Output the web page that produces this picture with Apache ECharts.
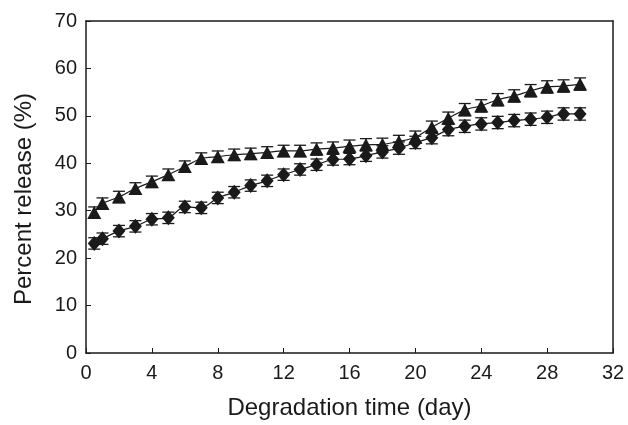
<!DOCTYPE html>
<html>
<head>
<meta charset="utf-8">
<script src="https://cdn.jsdelivr.net/npm/echarts@6/dist/echarts.min.js"></script>
<style>
html,body{margin:0;padding:0;background:#fff;}
#chart{width:628px;height:425px;}
</style>
</head>
<body>
<div id="chart"></div>
<script>
const days = [0.5, 1, 2, 3, 4, 5, 6, 7, 8, 9, 10, 11, 12, 13, 14, 15, 16, 17, 18, 19, 20, 21, 22, 23, 24, 25, 26, 27, 28, 29, 30];
const triangleValues = [29.6, 31.5, 32.9, 34.7, 36.1, 37.6, 39.3, 41.0, 41.4, 41.8, 42.0, 42.3, 42.6, 42.6, 43.0, 43.2, 43.6, 43.9, 44.0, 44.6, 45.5, 47.6, 49.5, 51.3, 52.1, 53.4, 54.2, 55.3, 56.1, 56.3, 56.7];
const triangleErrors = [1.2, 1.2, 1.2, 1.2, 1.2, 1.2, 1.2, 1.2, 1.2, 1.2, 1.2, 1.2, 1.2, 1.2, 1.3, 1.3, 1.3, 1.3, 1.3, 1.3, 1.3, 1.3, 1.3, 1.3, 1.3, 1.3, 1.3, 1.3, 1.3, 1.3, 1.3];
const diamondValues = [23.1, 24.1, 25.7, 26.7, 28.2, 28.5, 30.8, 30.6, 32.7, 33.9, 35.3, 36.3, 37.6, 38.7, 39.7, 40.8, 40.9, 41.6, 42.4, 43.2, 44.4, 45.4, 47.1, 47.8, 48.3, 48.6, 49.0, 49.3, 49.7, 50.4, 50.4];
const diamondErrors = [1.2, 1.2, 1.2, 1.2, 1.2, 1.2, 1.2, 1.2, 1.2, 1.2, 1.2, 1.2, 1.2, 1.2, 1.2, 1.2, 1.2, 1.2, 1.3, 1.3, 1.3, 1.3, 1.3, 1.3, 1.3, 1.3, 1.3, 1.3, 1.3, 1.3, 1.3];
const xTicks = [0, 4, 8, 12, 16, 20, 24, 28, 32];
const yTicks = [0, 10, 20, 30, 40, 50, 60, 70];

const font = '"Liberation Sans", Arial, Helvetica, sans-serif';
const ink = '#1a1a1a';

function pairs(xs, ys) { return xs.map((x, i) => [x, ys[i]]); }
function errData(xs, ys, es) { return xs.map((x, i) => [x, ys[i], es[i]]); }

function errorRender(params, api) {
  const x = api.value(0), y = api.value(1), e = api.value(2);
  const top = api.coord([x, y + e]);
  const bot = api.coord([x, y - e]);
  const hw = 6;
  const style = { stroke: ink, lineWidth: 1.3 };
  return {
    type: 'group',
    children: [
      { type: 'line', shape: { x1: top[0], y1: top[1], x2: bot[0], y2: bot[1] }, style },
      { type: 'line', shape: { x1: top[0] - hw, y1: top[1], x2: top[0] + hw, y2: top[1] }, style },
      { type: 'line', shape: { x1: bot[0] - hw, y1: bot[1], x2: bot[0] + hw, y2: bot[1] }, style }
    ]
  };
}

const chart = echarts.init(document.getElementById('chart'), null, { renderer: 'canvas' });
chart.setOption({
  animation: false,
  backgroundColor: '#fff',
  grid: { left: 86, right: 15, top: 21, bottom: 71, containLabel: false },
  xAxis: [{
    type: 'value', min: xTicks[0], max: xTicks[xTicks.length - 1], interval: 4,
    name: 'Degradation time (day)', nameLocation: 'middle', nameGap: 43,
    nameTextStyle: { fontFamily: font, fontSize: 24, color: ink },
    axisLine: { show: true, lineStyle: { color: ink, width: 1.5 } },
    axisTick: { show: true, inside: true, length: 5, lineStyle: { color: ink } },
    axisLabel: { fontFamily: font, fontSize: 20, color: ink, margin: 10 },
    splitLine: { show: false }
  }, {
    type: 'value', position: 'top', min: xTicks[0], max: xTicks[xTicks.length - 1],
    axisLine: { show: true, onZero: false, lineStyle: { color: ink, width: 1.5 } },
    axisTick: { show: false }, axisLabel: { show: false }, splitLine: { show: false }
  }],
  yAxis: [{
    type: 'value', min: yTicks[0], max: yTicks[yTicks.length - 1], interval: 10,
    name: 'Percent release (%)', nameLocation: 'middle', nameGap: 50,
    nameTextStyle: { fontFamily: font, fontSize: 24, color: ink, padding: [0, 24, 0, 0] },
    axisLine: { show: true, lineStyle: { color: ink, width: 1.5 } },
    axisTick: { show: true, inside: true, length: 5, lineStyle: { color: ink } },
    axisLabel: { fontFamily: font, fontSize: 20, color: ink, margin: 9 },
    splitLine: { show: false }
  }, {
    type: 'value', position: 'right', min: yTicks[0], max: yTicks[yTicks.length - 1],
    axisLine: { show: true, onZero: false, lineStyle: { color: ink, width: 1.5 } },
    axisTick: { show: false }, axisLabel: { show: false }, splitLine: { show: false }
  }],
  series: [
    {
      type: 'custom', renderItem: errorRender, data: errData(days, triangleValues, triangleErrors),
      encode: { x: 0, y: 1 }, z: 2, silent: true
    },
    {
      type: 'custom', renderItem: errorRender, data: errData(days, diamondValues, diamondErrors),
      encode: { x: 0, y: 1 }, z: 2, silent: true
    },
    {
      type: 'line', data: pairs(days, triangleValues), smooth: 0.3,
      symbol: 'triangle', symbolSize: [14, 13], showAllSymbol: true,
      lineStyle: { color: ink, width: 1.2 }, itemStyle: { color: ink, borderWidth: 0 }, z: 3
    },
    {
      type: 'line', data: pairs(days, diamondValues), smooth: 0.3,
      symbol: 'diamond', symbolSize: [13, 15], showAllSymbol: true,
      lineStyle: { color: ink, width: 1.2 }, itemStyle: { color: ink, borderWidth: 0 }, z: 3
    }
  ]
});
</script>
</body>
</html>
